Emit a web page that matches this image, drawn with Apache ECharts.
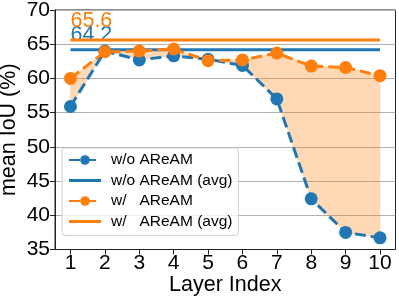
<!DOCTYPE html>
<html>
<head>
<meta charset="utf-8">
<script src="https://cdn.jsdelivr.net/npm/echarts@6/dist/echarts.min.js"></script>
<style>html,body{margin:0;padding:0;background:#fff}#c{width:399px;height:299px}</style>
</head>
<body>
<div id="c"></div>
<script>
const layers = [1, 2, 3, 4, 5, 6, 7, 8, 9, 10];
const woAReAM = [55.9, 64.0, 62.7, 63.3, 62.8, 61.9, 57.0, 42.4, 37.5, 36.7];
const wAReAM = [60.0, 63.9, 64.0, 64.3, 62.6, 62.7, 63.7, 61.8, 61.6, 60.4];
const woAvg = 64.2;
const wAvg = 65.6;
const yTicks = [35, 40, 45, 50, 55, 60, 65, 70];
const seriesNames = ['w/o AReAM', 'w/o AReAM (avg)', 'w/   AReAM', 'w/   AReAM (avg)'];

const BLUE = '#1f77b4', ORANGE = '#ff7f0e';
const FONT = 'Liberation Sans';
const DASH = [11, 5];

const pts = (vals) => layers.map((x, i) => [x, vals[i]]);
const avgLine = (v) => [[layers[0], v], [layers[layers.length - 1], v]];
const flatIcon = 'path://M0,0 L32,0 L32,3 L0,3 Z';

const chart = echarts.init(document.getElementById('c'), null, {renderer: 'canvas'});
chart.setOption({
  animation: false,
  textStyle: {fontFamily: FONT},
  grid: {left: 55, right: 3.5, top: 10, bottom: 49.5, outerBoundsMode: 'none', containLabel: false,
    show: true, borderColor: '#222', borderWidth: 1, backgroundColor: 'transparent'},
  xAxis: {
    type: 'value', min: 0.55, max: 10.45,
    name: 'Layer Index', nameLocation: 'middle', nameGap: 25, nameMoveOverlap: false,
    nameTextStyle: {fontSize: 21.5, color: '#000', fontFamily: FONT},
    axisLine: {show: true, onZero: false, lineStyle: {color: '#222', width: 1}},
    axisTick: {show: true, length: 5, customValues: layers, lineStyle: {color: '#222'}},
    axisLabel: {customValues: layers, fontSize: 21, color: '#000', margin: 3, fontFamily: FONT},
    splitLine: {show: false}
  },
  yAxis: {
    type: 'value', min: 35, max: 70, interval: 5,
    name: 'mean IoU (%)', nameLocation: 'middle', nameGap: 35, nameMoveOverlap: false,
    nameTextStyle: {fontSize: 21.5, color: '#000', fontFamily: FONT},
    axisLine: {show: true, lineStyle: {color: '#222', width: 1}},
    axisTick: {show: true, length: 5, lineStyle: {color: '#222'}},
    axisLabel: {fontSize: 21, color: '#000', margin: 5, fontFamily: FONT,
      formatter: (v) => yTicks.includes(v) ? String(v) : ''},
    splitLine: {show: true, lineStyle: {color: '#b0b0b0', width: 1}}
  },
  legend: {
    orient: 'vertical', left: 62, top: 148,
    data: [
      {name: seriesNames[0]},
      {name: seriesNames[1], icon: flatIcon, itemStyle: {color: BLUE}},
      {name: seriesNames[2]},
      {name: seriesNames[3], icon: flatIcon, itemStyle: {color: ORANGE}}
    ],
    itemWidth: 32, itemHeight: 12, itemGap: 4.5,
    padding: [4, 6, 6, 6],
    backgroundColor: 'rgba(255,255,255,0.8)', borderColor: '#d0d0d0', borderWidth: 1, borderRadius: 3,
    textStyle: {fontSize: 15.5, color: '#000', fontFamily: FONT, padding: [0, 0, 0, 5]}
  },
  series: [
    {name: 'gap', type: 'custom', silent: true, z: 1, data: [[layers[0], wAReAM[0]]],
      renderItem: (params, api) => {
        const top = layers.map((x, i) => api.coord([x, wAReAM[i]]));
        const bot = layers.map((x, i) => api.coord([x, woAReAM[i]])).reverse();
        return {type: 'polygon', shape: {points: top.concat(bot)},
          style: {fill: ORANGE, opacity: 0.3, stroke: ORANGE, lineWidth: 0.5}};
      }},
    {name: seriesNames[0], type: 'line', data: pts(woAReAM), color: BLUE,
      symbol: 'circle', symbolSize: 13, itemStyle: {color: BLUE},
      lineStyle: {color: BLUE, width: 3, type: DASH}, z: 3},
    {name: seriesNames[1], type: 'line', data: avgLine(woAvg), color: BLUE,
      symbol: 'circle', symbolSize: 1, itemStyle: {color: 'transparent'},
      lineStyle: {color: BLUE, width: 3}, z: 3,
      label: {show: true, position: 'top', align: 'left', distance: 3, fontSize: 21.5, color: BLUE, fontFamily: FONT,
        formatter: (p) => p.dataIndex === 0 ? woAvg.toFixed(1) : ''}},
    {name: seriesNames[2], type: 'line', data: pts(wAReAM), color: ORANGE,
      symbol: 'circle', symbolSize: 13, itemStyle: {color: ORANGE},
      lineStyle: {color: ORANGE, width: 3, type: DASH}, z: 4},
    {name: seriesNames[3], type: 'line', data: avgLine(wAvg), color: ORANGE,
      symbol: 'circle', symbolSize: 1, itemStyle: {color: 'transparent'},
      lineStyle: {color: ORANGE, width: 3}, z: 4,
      label: {show: true, position: 'top', align: 'left', distance: 8, fontSize: 21.5, color: ORANGE, fontFamily: FONT,
        formatter: (p) => p.dataIndex === 0 ? wAvg.toFixed(1) : ''}}
  ]
});
</script>
</body>
</html>
